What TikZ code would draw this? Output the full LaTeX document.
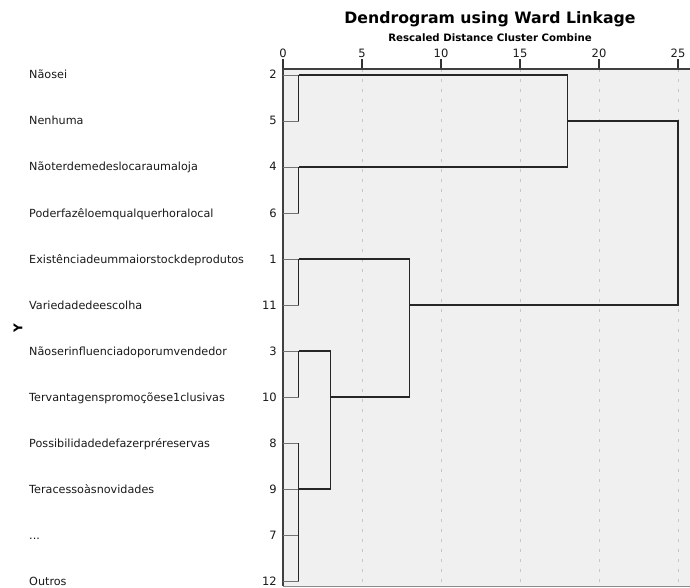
\documentclass[tikz,border=0pt]{standalone}
\usepackage{fontspec}
\setmainfont{DejaVu Sans}
\usetikzlibrary{calc}
\definecolor{plotbg}{HTML}{F0F0F0}
\def\threedots{...}
\tikzset{
  leaflbl/.style={anchor=base west, inner sep=0pt, font=\fontsize{11.2}{13}\selectfont, text=black!90},
  numlbl/.style={anchor=base east, inner sep=0pt, font=\fontsize{11.5}{13}\selectfont, text=black!90},
  ticklbl/.style={inner sep=0pt, font=\fontsize{11.5}{13}\selectfont, text=black!90},
  stubline/.style={line width=0.9pt, color=black!55},
  treeline/.style={line width=1.3pt, color=black!85},
  gridline/.style={line width=1pt, color=black!22, dash pattern=on 3pt off 7pt},
}

\begin{document}
\begin{tikzpicture}[x=1pt, y=-1pt]
	%%%%% START %%%%%
	\useasboundingbox (0,0) rectangle (690,588);
	\fill[plotbg] (283,69) rectangle (690,586);
	
	\node[font=\bfseries\fontsize{15.7}{18}\selectfont] (title) at (490,19) {Dendrogram using Ward Linkage};
	\node[font=\bfseries\fontsize{10.2}{12}\selectfont] (subtitle) at (490,38) {Rescaled Distance Cluster Combine};
	
	% scale
	\foreach \v in {0,5,...,25} {
		\coordinate (g\v) at ({283+15.8*\v},69);
		\draw[gridline] (g\v) -- ++(0,517);
		\draw[line width=1.2pt, color=black!80] (g\v) -- ++(0,-10) node[ticklbl, above=1pt] (t\v) {\v};
	}
	\draw[line width=1.2pt, color=black!75] (283,69) -- (690,69);
	\draw[line width=1.2pt, color=black!75] (283,69) -- (283,586);
	\draw[line width=1pt, color=black!45] (283,586) -- (690,586);
	
	\node[rotate=90, font=\bfseries\fontsize{12}{13}\selectfont] (ylbl) at (18,328) {Y};
	
	% leaves
	\foreach \n/\t [count=\i] in {2/Nãosei, 5/Nenhuma, 4/Nãoterdemedeslocaraumaloja, 6/Poderfazêloemqualquerhoralocal, 1/Existênciadeummaiorstockdeprodutos, 11/Variedadedeescolha, 3/Nãoserinfluenciadoporumvendedor, 10/Tervantagenspromoçõese1clusivas, 8/Possibilidadedefazerpréreservas, 9/Teracessoàsnovidades, 7/\threedots, 12/Outros} {
		\node[leaflbl] (lbl\n) at (29, {79+46*(\i-1)}) {\t};
		\node[numlbl] (num\n) at (277, {79+46*(\i-1)}) {\n};
		\coordinate (c\n) at (283, {75+46*(\i-1)});
	}
	
	% merge levels
	\coordinate (m1) at (298.8,69);
	\coordinate (m3) at (330.4,69);
	\coordinate (m8) at (409.4,69);
	\coordinate (m18) at (567.4,69);
	\coordinate (m25) at (678,69);
	
	\foreach \n in {2,5,4,6,1,11,3,10,8,9,7,12}
		\draw[stubline] (c\n) -- (c\n -| m1);
	
	\draw[treeline] (c2 -| m1) -- (c5 -| m1);
	\draw[treeline] (c4 -| m1) -- (c6 -| m1);
	\draw[treeline] (c1 -| m1) -- (c11 -| m1);
	\draw[treeline] (c3 -| m1) -- (c10 -| m1);
	\draw[treeline] (c8 -| m1) -- (c12 -| m1);
	
	\draw[treeline] (c3 -| m1) -- (c3 -| m3) -- (c9 -| m3) -- (c9 -| m1);
	\draw[treeline] (c1 -| m1) -- (c1 -| m8) -- (c10 -| m8) -- (c10 -| m3);
	\draw[treeline] (c2 -| m1) -- (c2 -| m18) -- (c4 -| m18) -- (c4 -| m1);
	\draw[treeline] (c5 -| m18) -- (c5 -| m25) -- (c11 -| m25) -- (c11 -| m8);
	
	%%%%% END %%%%%
\end{tikzpicture}
\end{document}
